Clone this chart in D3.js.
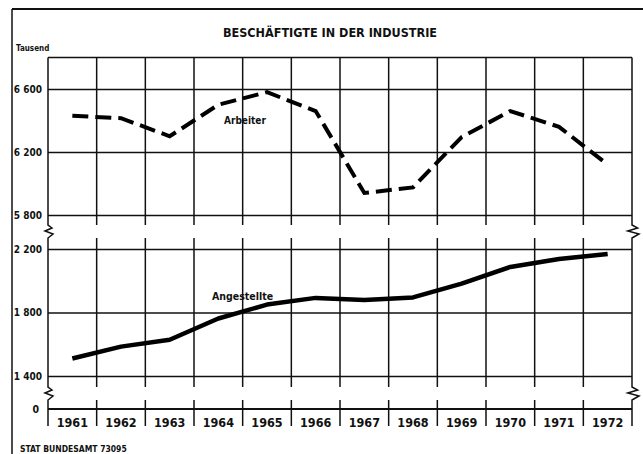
<!DOCTYPE html>
<html lang="de">
<head>
<meta charset="UTF-8">
<title>Beschäftigte in der Industrie</title>
<script src="https://d3js.org/d3.v7.min.js"></script>
<style>
  body { margin: 0; background: #fff; }
  text { font-family: "Liberation Sans Narrow", "DejaVu Sans Condensed", sans-serif; font-weight: bold; fill: #111; }
</style>
</head>
<body>
<svg class="chart" width="643" height="454"></svg>
<script>
// Daten (Tausend)
const years = [1961, 1962, 1963, 1964, 1965, 1966, 1967, 1968, 1969, 1970, 1971, 1972]
const arbeiter = [6430, 6415, 6300, 6500, 6580, 6460, 5940, 5975, 6295, 6460, 6360, 6120]
const angestellte = [1510, 1585, 1628, 1762, 1850, 1892, 1878, 1895, 1982, 2087, 2137, 2169]
const upperTicks = [5800, 6200, 6600]
const upperLabels = ['5 800', '6 200', '6 600']
const lowerTicks = [1400, 1800, 2200]
const lowerLabels = ['1 400', '1 800', '2 200']

const svg = d3.select('.chart')
const left = 48, right = 632

const x = d3.scaleBand().domain(years).range([left, right])
const yUp = d3.scaleLinear().domain([5800, 6800]).range([215, 57.5])
const yLo = d3.scaleLinear().domain([1400, 2200]).range([376, 249])
const zeroY = 409

// Rahmen aussen
svg.append('line').attr('x1', 12).attr('x2', 643).attr('y1', 9).attr('y2', 9)
  .attr('stroke', '#111').attr('stroke-width', 2)
svg.append('line').attr('x1', 12).attr('x2', 12).attr('y1', 9).attr('y2', 454)
  .attr('stroke', '#111').attr('stroke-width', 1.5)

svg.append('text').attr('x', 330).attr('y', 37).attr('text-anchor', 'middle')
  .attr('font-size', 12.5).text('BESCHÄFTIGTE IN DER INDUSTRIE')
svg.append('text').attr('x', 16).attr('y', 51).attr('font-size', 8).text('Tausend')
svg.append('text').attr('x', 20).attr('y', 452).attr('font-size', 8.5).text('STAT BUNDESAMT 73095')

const g = svg.append('g')

// horizontale Gitterlinien ueber Achsen
g.append('g').attr('transform', `translate(${left},0)`)
  .call(d3.axisLeft(yUp).tickValues(upperTicks).tickSize(-(right - left)).tickFormat((d, i) => upperLabels[i]))
g.append('g').attr('transform', `translate(${left},0)`)
  .call(d3.axisLeft(yLo).tickValues(lowerTicks).tickSize(-(right - left)).tickFormat((d, i) => lowerLabels[i]))
g.selectAll('.domain').remove()
g.selectAll('.tick line').attr('stroke', '#111').attr('stroke-width', 1.5)
g.selectAll('.tick text').attr('x', -6).attr('font-size', 10)
  .style('font-family', '"Liberation Sans Narrow","DejaVu Sans Condensed",sans-serif').style('font-weight', 'bold').attr('fill', '#111')

// obere Kante
g.append('line').attr('x1', left).attr('x2', right).attr('y1', yUp(6800)).attr('y2', yUp(6800))
  .attr('stroke', '#111').attr('stroke-width', 1.5)

// Nulllinie
g.append('line').attr('x1', left).attr('x2', right).attr('y1', zeroY).attr('y2', zeroY)
  .attr('stroke', '#111').attr('stroke-width', 1.8)
g.append('text').attr('x', 39).attr('y', zeroY).attr('dy', '0.35em').attr('text-anchor', 'end')
  .attr('font-size', 10.5).text('0')

// vertikale Linien
const edges = years.map(d => x(d)).concat([right])
const segs = [[yUp(6800), 225], [238, 387], [400, 426]]
edges.forEach((ex, i) => {
  if (i === 0 || i === edges.length - 1) return
  segs.forEach(s => {
    g.append('line').attr('x1', ex).attr('x2', ex).attr('y1', s[0]).attr('y2', s[1])
      .attr('stroke', '#111').attr('stroke-width', 1.5)
  })
})

// Seitenkanten mit Bruchzeichen
const edgePath = (ex, dir) => {
  const z = (y0) => [[ex, y0], [ex + 4 * dir, y0 + 3], [ex - 3 * dir, y0 + 6], [ex + 5 * dir, y0 + 9], [ex, y0 + 13]]
  return [[ex, yUp(6800)]].concat(z(225), z(387), [[ex, 426]])
}
g.append('path').attr('d', d3.line()(edgePath(left, 1))).attr('fill', 'none')
  .attr('stroke', '#111').attr('stroke-width', 1.5)
g.append('path').attr('d', d3.line()(edgePath(right, 1.4))).attr('fill', 'none')
  .attr('stroke', '#111').attr('stroke-width', 1.5)

// Jahre
g.selectAll('.year').data(years).enter().append('text')
  .attr('x', d => x(d) + x.bandwidth() / 2).attr('y', 427)
  .attr('text-anchor', 'middle').attr('font-size', 12.5).text(d => d)

// Linien
const cx = d => x(d) + x.bandwidth() / 2
g.append('path')
  .attr('d', d3.line().x((d, i) => cx(years[i])).y(d => yUp(d))(arbeiter))
  .attr('fill', 'none').attr('stroke', '#000').attr('stroke-width', 4)
  .attr('stroke-dasharray', '16,7')
g.append('path')
  .attr('d', d3.line().x((d, i) => cx(years[i])).y(d => yLo(d))(angestellte))
  .attr('fill', 'none').attr('stroke', '#000').attr('stroke-width', 4.5)
  .attr('stroke-linejoin', 'round')

g.append('text').attr('x', 224).attr('y', 124).attr('font-size', 10).text('Arbeiter')
g.append('text').attr('x', 212).attr('y', 300).attr('font-size', 10.5).text('Angestellte')
</script>
</body>
</html>
